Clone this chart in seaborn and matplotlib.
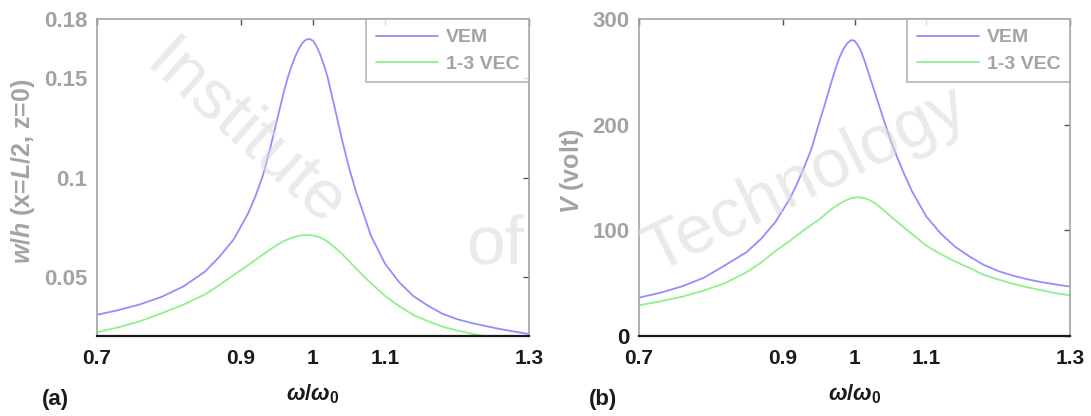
import numpy as np
import pandas as pd
import matplotlib
matplotlib.use("Agg")
import matplotlib.pyplot as plt
import seaborn as sns

# ---- data ----
omega = [0.70, 0.73, 0.76, 0.79, 0.82, 0.85, 0.87, 0.89, 0.91, 0.92, 0.93, 0.94,
         0.95, 0.96, 0.965, 0.97, 0.975, 0.98, 0.985, 0.99, 0.995, 1.00, 1.005,
         1.01, 1.015, 1.02, 1.03, 1.04, 1.05, 1.06, 1.07, 1.08, 1.10, 1.12, 1.14,
         1.16, 1.18, 1.20, 1.22, 1.24, 1.26, 1.28, 1.30]

w_vem = [0.0307, 0.0331, 0.0360, 0.0398, 0.0450, 0.0525, 0.0600, 0.0688, 0.0820,
         0.0905, 0.1005, 0.1140, 0.1290, 0.1440, 0.1505, 0.1560, 0.1608, 0.1648,
         0.1678, 0.1695, 0.1700, 0.1690, 0.1662, 0.1620, 0.1570, 0.1510, 0.1355,
         0.1195, 0.1050, 0.0925, 0.0820, 0.0710, 0.0565, 0.0470, 0.0400, 0.0352,
         0.0312, 0.0285, 0.0266, 0.0250, 0.0235, 0.0222, 0.0210]

w_vec = [0.0219, 0.0244, 0.0275, 0.0315, 0.0358, 0.0410, 0.0457, 0.0508, 0.0558,
         0.0584, 0.0610, 0.0635, 0.0660, 0.0680, 0.0688, 0.0695, 0.0700, 0.0705,
         0.0708, 0.0709, 0.0710, 0.0707, 0.0703, 0.0697, 0.0688, 0.0677, 0.0648,
         0.0615, 0.0578, 0.0540, 0.0503, 0.0468, 0.0402, 0.0350, 0.0305, 0.0274,
         0.0247, 0.0228, 0.0212, 0.0198, 0.0186, 0.0175, 0.0165]

v_vem = [36.3, 41.0, 47.0, 55.0, 67.0, 79.5, 92.0, 108.0, 130.0, 144.0, 160.0, 177.0,
         200.0, 222.0, 234.0, 245.0, 256.0, 265.0, 272.0, 277.0, 280.0, 279.5, 275.0,
         268.0, 258.5, 248.0, 227.0, 206.0, 186.0, 168.0, 152.0, 137.0, 113.0, 97.0,
         84.5, 75.3, 67.3, 61.5, 57.2, 53.8, 51.0, 48.8, 46.8]

v_vec = [29.1, 32.8, 37.2, 43.0, 50.0, 60.5, 69.5, 80.5, 90.0, 95.3, 100.5, 105.2,
         110.0, 115.5, 118.3, 121.0, 123.3, 125.5, 127.4, 129.0, 130.2, 131.0, 131.3,
         131.0, 130.2, 129.0, 125.0, 119.5, 113.5, 107.8, 102.0, 96.5, 85.5, 77.5,
         70.5, 64.5, 57.8, 53.5, 49.5, 46.2, 43.3, 40.5, 38.5]

series_names = ["VEM", "1-3 VEC"]
x_ticks = [0.7, 0.9, 1.0, 1.1, 1.3]
x_ticklabels = ["0.7", "0.9", "1", "1.1", "1.3"]
ya_ticks = [0.05, 0.1, 0.15, 0.18]
ya_ticklabels = ["0.05", "0.1", "0.15", "0.18"]
yb_ticks = [0, 100, 200, 300]
yb_ticklabels = ["0", "100", "200", "300"]

n = len(omega)
df = pd.DataFrame({
    "omega": omega * 2,
    "w": w_vem + w_vec,
    "V": v_vem + v_vec,
    "model": [series_names[0]] * n + [series_names[1]] * n,
})

sns.set_theme(style="white")
plt.rcParams['font.family'] = ['Liberation Sans', 'DejaVu Sans']
plt.rcParams['font.weight'] = 'bold'
plt.rcParams['mathtext.fontset'] = 'custom'
plt.rcParams['mathtext.rm'] = 'Liberation Sans:bold'
plt.rcParams['mathtext.it'] = 'Liberation Sans:italic:bold'
plt.rcParams['mathtext.bf'] = 'Liberation Sans:bold'

BLUE = "#8f8fff"
GREEN = "#8ff08f"
GRAY = "#a3a3a3"
DARK = "#1a1a1a"
palette = {series_names[0]: BLUE, series_names[1]: GREEN}

fig = plt.figure(figsize=(10.91, 4.16), dpi=100)
ax1 = fig.add_axes([97 / 1091, 80 / 416, 432 / 1091, 317 / 416])
ax2 = fig.add_axes([639 / 1091, 80 / 416, 431 / 1091, 317 / 416])

sns.lineplot(data=df, x="omega", y="w", hue="model", palette=palette,
             ax=ax1, linewidth=1.3)
sns.lineplot(data=df, x="omega", y="V", hue="model", palette=palette,
             ax=ax2, linewidth=1.3)

for ax, yt, ytl, ylim in [(ax1, ya_ticks, ya_ticklabels, (0.02, 0.18)),
                          (ax2, yb_ticks, yb_ticklabels, (0, 300))]:
    ax.set_xlim(0.7, 1.3)
    ax.set_ylim(*ylim)
    ax.set_xticks(x_ticks)
    ax.set_xticklabels(x_ticklabels, fontsize=15, fontweight='bold', color=DARK)
    ax.set_yticks(yt)
    ax.set_yticklabels(ytl, fontsize=16, fontweight='bold', color=GRAY)
    ax.tick_params(axis='both', direction='in', top=True, right=True, length=4,
                   width=1, color='#555555')
    ax.tick_params(axis='x', pad=9)
    ax.tick_params(axis='y', pad=7)
    for s in ['left', 'top', 'right']:
        ax.spines[s].set_color(GRAY)
        ax.spines[s].set_linewidth(1.2)
    ax.spines['bottom'].set_color(DARK)
    ax.spines['bottom'].set_linewidth(1.6)
    ax.set_xlabel(r"$\omega/\omega_\mathbf{0}$", fontsize=16, color=DARK)
    ax.xaxis.set_label_coords(0.5, -0.145)
    leg = ax.legend(loc='upper right', borderaxespad=0.0, fancybox=False,
                    frameon=True, fontsize=14, handlelength=3.2,
                    borderpad=0.5, labelspacing=0.45, handletextpad=0.4)
    leg.get_frame().set_edgecolor(GRAY)
    leg.get_frame().set_linewidth(1.2)
    for t in leg.get_texts():
        t.set_color(GRAY)
        t.set_fontweight('bold')

ax2.get_yticklabels()[0].set_color(DARK)

ax1.set_ylabel(r"$w/h$ (x=$L$/2, z=0)", fontsize=18, color=GRAY, fontweight='bold')
ax1.yaxis.set_label_coords(-0.14, 0.52)
ax2.set_ylabel(r"$V$ (volt)", fontsize=18, color=GRAY, fontweight='bold')
ax2.yaxis.set_label_coords(-0.122, 0.52)

fig.text(42 / 1091, 1 - 399 / 416, "(a)", fontsize=16, fontweight='bold',
         color=DARK, va='center', ha='left')
fig.text(589 / 1091, 1 - 399 / 416, "(b)", fontsize=16, fontweight='bold',
         color=DARK, va='center', ha='left')

# faint watermark of the source image
wm = dict(color='#d9d9d9', alpha=0.55, fontsize=50, fontweight='normal',
          ha='center', va='center', zorder=10)
fig.text(245 / 1091, 1 - 135 / 416, "Institute", rotation=-42, **wm)
fig.text(495 / 1091, 1 - 245 / 416, "of", **wm)
fig.text(805 / 1091, 1 - 180 / 416, "Technology", rotation=26, **wm)

fig.savefig("out.png", dpi=100)
